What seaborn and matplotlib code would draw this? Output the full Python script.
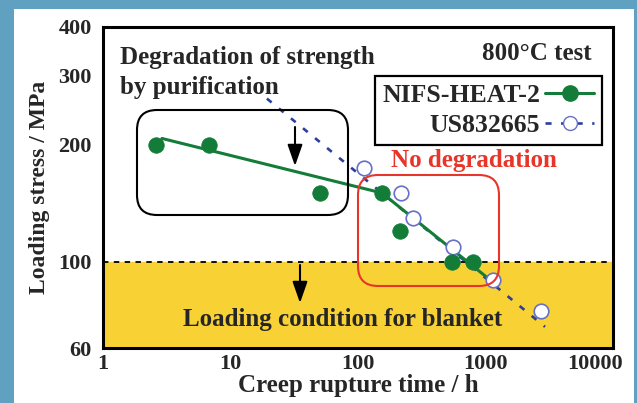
import numpy as np
import pandas as pd
import matplotlib
matplotlib.use("Agg")
import matplotlib.pyplot as plt
import matplotlib.transforms as mtransforms
import seaborn as sns
from matplotlib.patches import FancyBboxPatch, Rectangle
from matplotlib.lines import Line2D

# ---------------- data ----------------
nifs_time = [2.6, 6.8, 50, 154, 213, 546, 798]
nifs_stress = [199, 199, 150, 150, 120, 99.5, 100]
nifs_fit_time = [2.9, 154, 1030]
nifs_fit_stress = [207, 150, 91]

us_time = [111, 217, 270, 556, 1145, 2725]
us_stress = [174, 150, 129, 109, 89.6, 74.6]
us_fit_time = [19.3, 2930]
us_fit_stress = [262, 68]

blanket_limit = 100
x_ticks = [1, 10, 100, 1000, 10000]
y_ticks = [60, 100, 200, 300, 400]
y_minor = [70]

GREEN = "#137c38"
NAVY = "#2a3da0"
HOLLOW_EDGE = "#6670c8"
YELLOW = "#f8d235"
RED = "#e8352a"
BG = "#60a0c1"
DASH = (0, (2.3, 3.6))

sns.set_style("white")
plt.rcParams["font.family"] = ["Liberation Serif", "DejaVu Serif"]
plt.rcParams["font.weight"] = "bold"

W, H = 637, 403
fig = plt.figure(figsize=(W / 100, H / 100), dpi=100, facecolor=BG)
fig.patches.append(Rectangle((14 / W, 0), (634 - 14) / W, (403 - 9) / H,
                             transform=fig.transFigure, facecolor="white",
                             edgecolor="none", zorder=-10))
L, R, T, B = 103, 613, 27, 348
ax = fig.add_axes([L / W, 1 - B / H, (R - L) / W, (B - T) / H])
ax.set_xscale("log")
ax.set_yscale("log")
ax.set_xlim(1, 10000)
ax.set_ylim(60, 400)

# yellow region
ax.axhspan(60, blanket_limit, color=YELLOW, zorder=0)
ax.axhline(blanket_limit, color="black", lw=1.3, ls=(0, (3, 3)), zorder=1)

df_us_fit = pd.DataFrame({"t": us_fit_time, "s": us_fit_stress})
df_nifs_fit = pd.DataFrame({"t": nifs_fit_time, "s": nifs_fit_stress})
df_us = pd.DataFrame({"t": us_time, "s": us_stress})
df_nifs = pd.DataFrame({"t": nifs_time, "s": nifs_stress})

sns.lineplot(data=df_us_fit, x="t", y="s", ax=ax, color=NAVY, lw=1.9,
             linestyle=DASH, sort=False, zorder=2)
sns.lineplot(data=df_nifs_fit, x="t", y="s", ax=ax, color=GREEN, lw=2.2,
             sort=False, zorder=3)
sns.scatterplot(data=df_us, x="t", y="s", ax=ax, s=110, facecolor="white",
                edgecolor=HOLLOW_EDGE, linewidth=1.2, zorder=4)
sns.scatterplot(data=df_nifs, x="t", y="s", ax=ax, s=125, color=GREEN,
                edgecolor=GREEN, linewidth=0.5, zorder=5)

# axes styling
ax.set_xticks(x_ticks)
ax.set_xticklabels([str(v) for v in x_ticks])
ax.set_yticks(y_ticks)
ax.set_yticklabels([str(v) for v in y_ticks])
ax.xaxis.set_minor_locator(matplotlib.ticker.LogLocator(base=10, subs=np.arange(2, 10)))
ax.xaxis.set_minor_formatter(matplotlib.ticker.NullFormatter())
ax.set_yticks(y_minor, minor=True)
ax.yaxis.set_minor_formatter(matplotlib.ticker.NullFormatter())
ax.tick_params(which="both", direction="in", color="#999999", width=0.8,
               labelsize=16)
ax.tick_params(which="major", length=6)
ax.tick_params(which="minor", length=4)
ax.tick_params(axis="y", pad=8)
ax.tick_params(axis="x", pad=4)
for lab in ax.get_xticklabels() + ax.get_yticklabels():
    lab.set_fontweight("bold")
# shift last x label left so it stays inside the panel
last = ax.get_xticklabels()[-1]
last.set_horizontalalignment("right")
last.set_transform(last.get_transform() +
                   mtransforms.ScaledTranslation(0.10, 0, fig.dpi_scale_trans))
for sp in ax.spines.values():
    sp.set_color("black")
    sp.set_linewidth(2.2)

ax.set_xlabel("Creep rupture time / h", fontsize=18, fontweight="bold", labelpad=0)
ax.set_ylabel("Loading stress / MPa", fontsize=17, fontweight="bold", labelpad=6)

# legend
h1 = Line2D([], [], color=GREEN, lw=2.2, marker="o", markersize=11,
            markerfacecolor=GREEN, markeredgecolor=GREEN)
h2 = Line2D([], [], color=NAVY, lw=1.9, linestyle=DASH, marker="o",
            markersize=10, markerfacecolor="white", markeredgecolor=HOLLOW_EDGE)
leg = ax.legend([h1, h2], ["NIFS-HEAT-2", "US832665"], loc="upper right",
                bbox_to_anchor=((602 - L) / (R - L), (B - 76) / (B - T)),
                markerfirst=False, fancybox=False, framealpha=1,
                edgecolor="black", prop={"size": 18.5, "weight": "bold"},
                handlelength=1.9, handletextpad=0.2, borderpad=0.3,
                labelspacing=0.28, borderaxespad=0)
leg.get_frame().set_linewidth(1.6)
leg.set_zorder(6)

# annotations (figure pixel helper)
def fx(x):
    return x / W

def fy(y):
    return 1 - y / H

txt = dict(fontsize=18, fontweight="bold", va="baseline")
fig.text(fx(120), fy(64), "Degradation of strength", ha="left", **txt)
fig.text(fx(120), fy(94), "by purification", ha="left", **txt)
fig.text(fx(592), fy(60), "800\u00b0C test", ha="right", **txt)
fig.text(fx(474), fy(167), "No degradation", ha="center", color=RED, **txt)
fig.text(fx(343), fy(326), "Loading condition for blanket", ha="center", **txt)

# rounded boxes (inches)
fig.patches.append(FancyBboxPatch((137 / 100, (H - 215) / 100), 2.11, 1.05,
                                  boxstyle="round,pad=0,rounding_size=0.2",
                                  transform=fig.dpi_scale_trans, facecolor="none",
                                  edgecolor="black", lw=1.5, zorder=7))
fig.patches.append(FancyBboxPatch((358 / 100, (H - 286) / 100), 1.41, 1.11,
                                  boxstyle="round,pad=0,rounding_size=0.2",
                                  transform=fig.dpi_scale_trans, facecolor="none",
                                  edgecolor=RED, lw=1.5, zorder=7))

# arrows
for x0, y0, y1 in [(295, 127, 166), (300, 265, 303)]:
    ax.annotate("", xy=(x0, H - y1), xytext=(x0, H - y0), xycoords="figure pixels",
                textcoords="figure pixels",
                arrowprops=dict(arrowstyle="-|>,head_length=1.0,head_width=0.35",
                                mutation_scale=13, color="black", lw=1.5,
                                shrinkA=0, shrinkB=0))

fig.savefig("out.png", dpi=100, facecolor=BG)
